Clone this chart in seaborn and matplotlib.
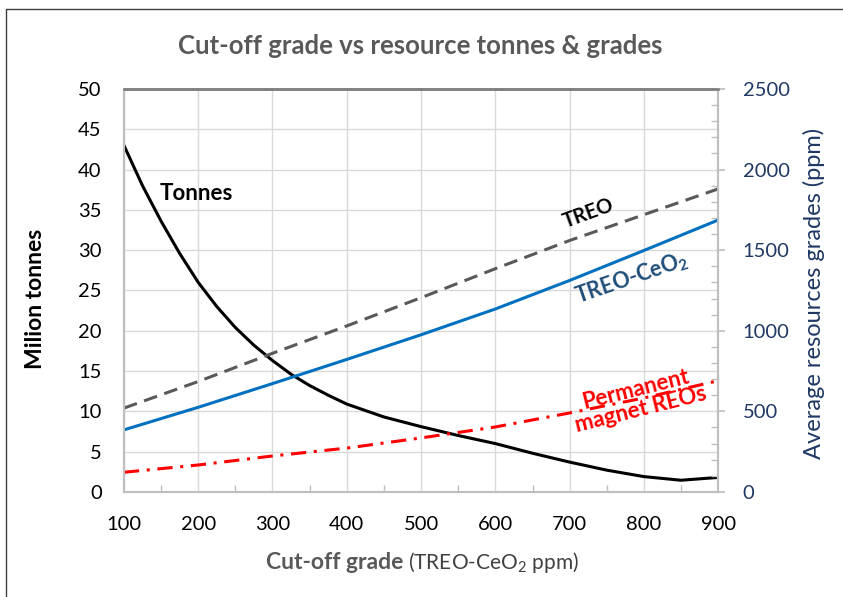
import numpy as np
import pandas as pd
import matplotlib
matplotlib.use("Agg")
import matplotlib.pyplot as plt
import seaborn as sns
from matplotlib.lines import Line2D
from matplotlib.ticker import MultipleLocator

# tonnes vs cut-off (left axis, million tonnes)
cutoff_t = [100, 125, 150, 175, 200, 225, 250, 275, 300, 325, 350, 375, 400, 450,
            500, 550, 600, 650, 700, 750, 800, 850, 900]
tonnes = [43.0, 38.0, 33.6, 29.6, 26.0, 23.0, 20.4, 18.2, 16.3, 14.6, 13.2, 12.0, 10.9, 9.3,
          8.1, 7.0, 6.0, 4.8, 3.7, 2.7, 1.9, 1.45, 1.8]

# average grades vs cut-off (right axis, ppm)
cutoff_g = [100, 200, 300, 400, 500, 600, 700, 800, 900]
treo = [520, 685, 860, 1030, 1205, 1385, 1560, 1720, 1880]
treo_ceo2 = [385, 525, 672, 822, 975, 1135, 1312, 1498, 1687]
magnet = [122, 167, 223, 272, 335, 403, 490, 583, 690]

df_t = pd.DataFrame({'cutoff': cutoff_t, 'tonnes': tonnes})
df_g = pd.DataFrame({'cutoff': cutoff_g, 'TREO': treo, 'TREO-CeO2': treo_ceo2, 'Magnet': magnet})

sns.set_theme(style="white")
plt.rcParams['font.family'] = ['Lato', 'DejaVu Sans']
plt.rcParams['mathtext.fontset'] = 'custom'
plt.rcParams['mathtext.rm'] = 'Lato'
plt.rcParams['mathtext.bf'] = 'Lato:bold'

fig = plt.figure(figsize=(8.43, 5.97), dpi=100)
ax = fig.add_axes([0.147, 0.176, 0.705, 0.675])
ax2 = ax.twinx()

# grid
ax.set_axisbelow(True)
ax.grid(True, which='major', color='#D9D9D9', lw=1)

sns.lineplot(data=df_t, x='cutoff', y='tonnes', ax=ax, color='black', lw=2.2)
sns.lineplot(data=df_g, x='cutoff', y='TREO', ax=ax2, color='#595959', lw=2.2, linestyle=(0, (4.5, 2.5)))
sns.lineplot(data=df_g, x='cutoff', y='TREO-CeO2', ax=ax2, color='#0070C0', lw=2.2)
sns.lineplot(data=df_g, x='cutoff', y='Magnet', ax=ax2, color='#FF0000', lw=2.2, linestyle=(0, (5, 2.5, 1, 2.5)))

ax.set_xlim(100, 900)
ax.set_ylim(0, 50)
ax2.set_ylim(0, 2500)
ax.xaxis.set_major_locator(MultipleLocator(100))
ax.xaxis.set_minor_locator(MultipleLocator(50))
ax.yaxis.set_major_locator(MultipleLocator(5))
ax2.yaxis.set_major_locator(MultipleLocator(500))
ax2.yaxis.set_minor_locator(MultipleLocator(100))

ax.set_xlabel('')
ax.set_ylabel('')
ax2.set_ylabel('')

ax.tick_params(axis='y', which='both', length=0, pad=16, labelsize=14.5, labelcolor='black')
ax.tick_params(axis='x', which='major', length=0, pad=17, labelsize=14.5, labelcolor='black')
ax.tick_params(axis='x', which='minor', bottom=True, direction='in', length=5, color='#BFBFBF')
ax2.tick_params(axis='y', which='major', right=True, direction='out', length=5, color='#BFBFBF',
                pad=12.5, labelsize=14.5, labelcolor='#1F3864')
ax2.tick_params(axis='y', which='minor', right=True, direction='in', length=5, color='#BFBFBF')

for a in (ax, ax2):
    for s in ('left', 'bottom', 'right'):
        a.spines[s].set_color('#BFBFBF')
        a.spines[s].set_linewidth(1.5)
    a.spines['top'].set_color('#7F7F7F')
    a.spines['top'].set_linewidth(1.8)

# curve labels
ax.text(197, 37, 'Tonnes', ha='center', va='center', fontsize=16, weight='bold', color='black')
ax.text(725, 34.6, 'TREO', ha='center', va='center', fontsize=14.5, weight='bold', color='black',
        rotation=20, rotation_mode='anchor')
ax.text(784, 26.5, 'TREO-CeO$_\\mathbf{2}$', ha='center', va='center', fontsize=15.5, weight='bold',
        color='#1F4E79', rotation=19, rotation_mode='anchor')
ax.text(793, 11.5, 'Permanent\nmagnet REOs', ha='center', va='center', fontsize=16, weight='bold',
        color='#FF0000', rotation=14, rotation_mode='anchor', multialignment='center', linespacing=1.0)

# titles and axis labels
fig.text(0.499, 0.923, 'Cut-off grade vs resource tonnes & grades', ha='center', va='center',
         fontsize=18.5, weight='bold', color='#595959')
fig.text(0.042, 0.499, 'Milion tonnes', rotation=90, ha='center', va='center',
         fontsize=16.5, weight='bold', color='black')
fig.text(0.966, 0.508, 'Average resources grades (ppm)', rotation=90, ha='center', va='center',
         fontsize=17, color='#1F3864')
fig.text(0.479, 0.057, 'Cut-off grade', ha='right', va='center', fontsize=16.5, weight='bold', color='#595959')
fig.text(0.484, 0.057, '(TREO-CeO$_2$ ppm)', ha='left', va='center', fontsize=15, color='#404040')

# chart border
fig.add_artist(Line2D([0.007, 0.007], [0, 0.985], transform=fig.transFigure, color='#404040', lw=1))
fig.add_artist(Line2D([0.007, 1], [0.985, 0.985], transform=fig.transFigure, color='#404040', lw=1))

fig.savefig('out.png', dpi=100)
